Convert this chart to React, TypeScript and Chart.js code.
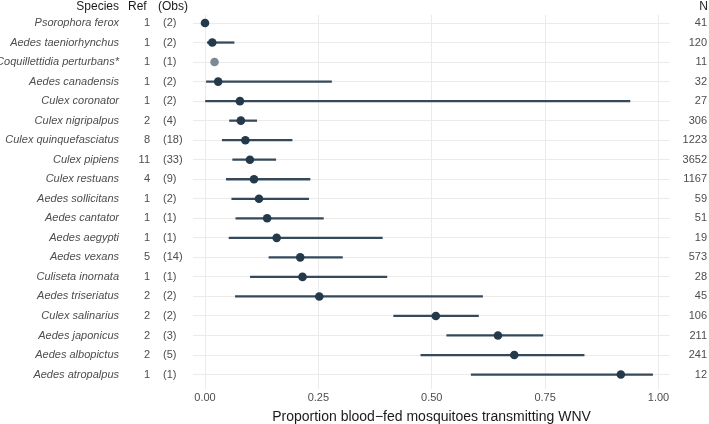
import React, { useEffect, useRef } from "react";
import { Chart, registerables } from "chart.js";

Chart.register(...registerables);

// Species, top to bottom
const species = [
  "Psorophora ferox",
  "Aedes taeniorhynchus",
  "Coquillettidia perturbans*",
  "Aedes canadensis",
  "Culex coronator",
  "Culex nigripalpus",
  "Culex quinquefasciatus",
  "Culex pipiens",
  "Culex restuans",
  "Aedes sollicitans",
  "Aedes cantator",
  "Aedes aegypti",
  "Aedes vexans",
  "Culiseta inornata",
  "Aedes triseriatus",
  "Culex salinarius",
  "Aedes japonicus",
  "Aedes albopictus",
  "Aedes atropalpus",
];

const refs = [1, 1, 1, 1, 1, 2, 8, 11, 4, 1, 1, 1, 5, 1, 2, 2, 2, 2, 1];
const obs = [2, 2, 1, 2, 2, 4, 18, 33, 9, 2, 1, 1, 14, 1, 2, 2, 3, 5, 1];
const nMosquitoes = [41, 120, 11, 32, 27, 306, 1223, 3652, 1167, 59, 51, 19, 573, 28, 45, 106, 211, 241, 12];

// Pooled proportion transmitting and its interval
const estimate = [0.0, 0.016, 0.021, 0.029, 0.077, 0.079, 0.089, 0.099, 0.108, 0.119, 0.137, 0.158, 0.21, 0.215, 0.252, 0.509, 0.646, 0.682, 0.917];
const lower: (number | null)[] = [null, 0.005, null, 0.003, 0.0, 0.054, 0.038, 0.061, 0.047, 0.059, 0.068, 0.053, 0.141, 0.1, 0.067, 0.416, 0.533, 0.476, 0.587];
const upper: (number | null)[] = [null, 0.064, null, 0.279, 0.937, 0.114, 0.192, 0.156, 0.2315, 0.2286, 0.261, 0.391, 0.303, 0.401, 0.612, 0.603, 0.745, 0.836, 0.987];

// Species pooled from a single observation without an interval
const singleObs = [false, false, true, false, false, false, false, false, false, false, false, false, false, false, false, false, false, false, false];

const xTicks = [0, 0.25, 0.5, 0.75, 1];

const FONT = "'Liberation Sans', Arial, Helvetica, sans-serif";
const TEXT_GREY = "#4d4d4d";
const DOT = "#24394a";
const DOT_FAINT = "#7d8a93";
const BAR = "#34495b";
const GRID = "#ebebeb";

const columnsPlugin = {
  id: "tableColumns",
  afterDraw(chart: Chart) {
    const ctx = chart.ctx;
    const y = chart.scales.y;
    ctx.save();
    ctx.textBaseline = "middle";

    // header row
    ctx.fillStyle = "#1a1a1a";
    ctx.font = `12px ${FONT}`;
    ctx.textAlign = "right";
    ctx.fillText("Species", 119, 7);
    ctx.textAlign = "left";
    ctx.fillText("Ref", 128, 7);
    ctx.fillText("(Obs)", 158, 7);
    ctx.textAlign = "right";
    ctx.fillText("N", 708, 7);

    ctx.fillStyle = TEXT_GREY;
    ctx.font = `11px ${FONT}`;
    species.forEach((_, i) => {
      const py = y.getPixelForValue(i);
      ctx.textAlign = "right";
      ctx.fillText(String(refs[i]), 150, py);
      ctx.textAlign = "left";
      ctx.fillText(`(${obs[i]})`, 163, py);
      ctx.textAlign = "right";
      ctx.fillText(String(nMosquitoes[i]), 707, py);
    });
    ctx.restore();
  },
};

export default function App() {
  const canvasRef = useRef<HTMLCanvasElement | null>(null);

  useEffect(() => {
    if (!canvasRef.current) return;
    const chart = new Chart(canvasRef.current, {
      type: "bar",
      data: {
        datasets: [
          {
            type: "scatter",
            label: "estimate",
            data: estimate.map((v, i) => ({ x: v, y: i })),
            pointRadius: 4.3,
            pointHoverRadius: 4.3,
            pointBorderWidth: 0,
            pointBackgroundColor: singleObs.map((s) => (s ? DOT_FAINT : DOT)),
            order: 0,
          } as any,
          {
            type: "bar",
            label: "interval",
            data: species
              .map((_, i) => (lower[i] === null ? null : { y: i, x: [lower[i], upper[i]] }))
              .filter((d) => d !== null) as any,
            backgroundColor: BAR,
            borderWidth: 0,
            barThickness: 1.6,
            grouped: false,
            order: 1,
          } as any,
        ],
      },
      options: {
        indexAxis: "y",
        responsive: false,
        maintainAspectRatio: false,
        animation: false,
        events: [],
        layout: { padding: { left: 0, right: 39, top: 15, bottom: 0 } },
        plugins: { legend: { display: false }, tooltip: { enabled: false } },
        scales: {
          x: {
            type: "linear",
            min: -0.0265,
            max: 1.0254,
            offset: false,
            afterBuildTicks: (scale: any) => {
              scale.ticks = xTicks.map((v) => ({ value: v }));
            },
            afterFit: (scale: any) => {
              scale.height = 35;
              scale.paddingLeft = 0;
              scale.paddingRight = 0;
            },
            border: { display: false },
            grid: { color: GRID, lineWidth: 1, drawTicks: false, offset: false },
            ticks: {
              color: TEXT_GREY,
              font: { family: FONT, size: 11 },
              padding: 2,
              callback: (v: any) => Number(v).toFixed(2),
            },
            title: {
              display: true,
              text: "Proportion blood\u2212fed mosquitoes transmitting WNV",
              color: "#1a1a1a",
              font: { family: FONT, size: 14 },
              padding: { top: 2, bottom: -2 },
            },
          },
          y: {
            type: "linear",
            min: -0.41,
            max: 18.74,
            reverse: true,
            offset: false,
            afterBuildTicks: (scale: any) => {
              scale.ticks = species.map((_, i) => ({ value: i }));
            },
            afterFit: (scale: any) => {
              scale.width = 193;
              scale.paddingTop = 0;
              scale.paddingBottom = 0;
            },
            border: { display: false },
            grid: { color: GRID, lineWidth: 1, drawTicks: false, offset: false },
            ticks: {
              autoSkip: false,
              color: TEXT_GREY,
              font: { family: FONT, size: 11, style: "italic" },
              padding: 74,
              callback: (v: any) => species[Math.round(Number(v))] ?? "",
            },
          },
        },
      },
      plugins: [columnsPlugin],
    } as any);
    return () => chart.destroy();
  }, []);

  return (
    <div style={{ position: "fixed", left: 0, top: 0, width: 709, height: 424, background: "#fff" }}>
      <canvas ref={canvasRef} width={709} height={424} style={{ display: "block", width: 709, height: 424 }} />
    </div>
  );
}
